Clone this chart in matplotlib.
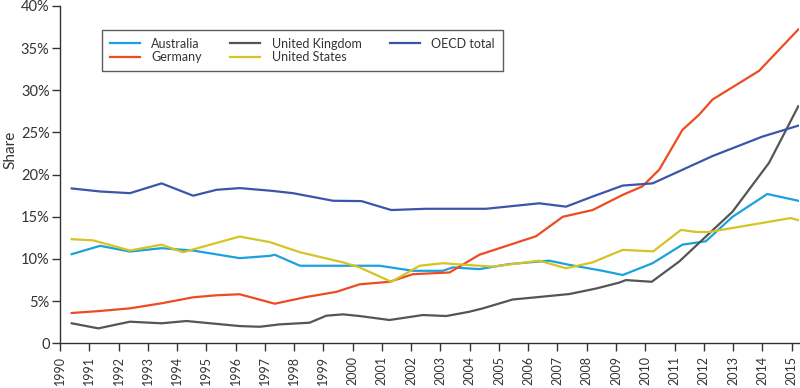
import numpy as np
import matplotlib.pyplot as plt

plt.rcParams['font.family'] = ['Lato', 'DejaVu Sans']

# data (fractional year, share in %)
aus_x = [1990.4, 1991.37, 1992.39, 1993.47, 1994.55, 1996.14, 1997.17, 1997.34, 1998.2,
         2000.92, 2002.06, 2003.08, 2003.42, 2004.33, 2005.36, 2006.72, 2007.41, 2008.54,
         2009.23, 2010.25, 2011.27, 2012.07, 2012.98, 2014.17, 2015.23]
aus_y = [10.57, 11.56, 10.88, 11.28, 11.0, 10.1, 10.37, 10.5, 9.2,
         9.2, 8.6, 8.6, 9.0, 8.8, 9.4, 9.8, 9.3, 8.6,
         8.1, 9.5, 11.7, 12.1, 15.0, 17.7, 16.9]

ger_x = [1990.4, 1991.37, 1992.39, 1993.47, 1994.55, 1995.35, 1996.14, 1997.34, 1998.42,
         1999.44, 2000.24, 2001.26, 2002.06, 2003.31, 2003.99, 2004.33, 2006.27, 2007.18,
         2008.2, 2009.23, 2009.9, 2010.48, 2011.27, 2011.84, 2012.3, 2013.89, 2015.23]
ger_y = [3.6, 3.84, 4.15, 4.75, 5.46, 5.7, 5.82, 4.7, 5.5,
         6.1, 7.0, 7.3, 8.2, 8.4, 9.8, 10.5, 12.7, 15.0,
         15.8, 17.6, 18.6, 20.6, 25.3, 27.1, 28.9, 32.3, 37.2]

uk_x = [1990.4, 1991.31, 1992.39, 1993.47, 1994.32, 1996.14, 1996.83, 1997.5, 1998.53,
        1999.1, 1999.67, 2000.24, 2001.26, 2002.4, 2003.2, 2003.99, 2004.45, 2005.47,
        2006.38, 2007.41, 2008.32, 2009.11, 2009.34, 2010.22, 2011.16, 2011.96, 2012.98,
        2014.23, 2015.23]
uk_y = [2.38, 1.78, 2.57, 2.38, 2.65, 2.05, 1.97, 2.25, 2.45,
        3.28, 3.44, 3.24, 2.77, 3.36, 3.24, 3.75, 4.15, 5.2,
        5.5, 5.85, 6.5, 7.2, 7.5, 7.3, 9.7, 12.3, 15.6,
        21.4, 28.1]

us_x = [1990.4, 1991.14, 1992.39, 1993.47, 1994.2, 1996.14, 1997.17, 1998.2, 1999.67,
        2000.24, 2001.32, 2002.29, 2003.08, 2003.88, 2004.79, 2006.38, 2007.29, 2008.2,
        2009.23, 2010.27, 2011.22, 2011.73, 2012.18, 2014.97, 2015.23]
us_y = [12.35, 12.2, 11.0, 11.7, 10.8, 12.66, 12.0, 10.8, 9.6,
        9.0, 7.3, 9.2, 9.5, 9.3, 9.1, 9.8, 8.9, 9.6,
        11.08, 10.9, 13.45, 13.2, 13.2, 14.85, 14.6]

oecd_x = [1990.4, 1991.37, 1992.39, 1993.47, 1994.55, 1995.35, 1996.14, 1997.17, 1997.96,
          1999.33, 2000.3, 2001.32, 2002.51, 2003.99, 2004.56, 2006.38, 2007.29, 2008.2,
          2009.23, 2010.25, 2012.3, 2014.0, 2015.23]
oecd_y = [18.36, 18.0, 17.8, 18.96, 17.5, 18.2, 18.4, 18.1, 17.8,
          16.9, 16.86, 15.8, 15.95, 15.95, 15.95, 16.6, 16.2, 17.4,
          18.7, 18.96, 22.2, 24.5, 25.8]

years = list(range(1990, 2016))
yticks = [0, 5, 10, 15, 20, 25, 30, 35, 40]
ylabels = ['0'] + ['%d%%' % v for v in yticks[1:]]

text_col = '#333333'

fig = plt.figure(figsize=(8, 3.88), dpi=100)
ax = fig.add_axes([0.075, 0.115, 0.924, 0.87])

ax.plot(aus_x, aus_y, color='#1ba1dd', lw=1.6, label='Australia')
ax.plot(ger_x, ger_y, color='#ee4b22', lw=1.6, label='Germany')
ax.plot(uk_x, uk_y, color='#555555', lw=1.6, label='United Kingdom')
ax.plot(us_x, us_y, color='#d6c324', lw=1.6, label='United States')
ax.plot(oecd_x, oecd_y, color='#3d55a8', lw=1.6, label='OECD total')

ax.set_xlim(1990, 2015.26)
ax.set_ylim(0, 40)
ax.set_xticks(years)
ax.set_xticklabels([str(y) for y in years], rotation=90, fontsize=9, color=text_col)
ax.set_yticks(yticks)
ax.set_yticklabels(ylabels, fontsize=10.5, color=text_col)
ax.set_ylabel('Share', fontsize=11, color=text_col)
ax.yaxis.set_label_coords(-0.057, 0.573)

for s in ['top', 'right']:
    ax.spines[s].set_visible(False)
for s in ['left', 'bottom']:
    ax.spines[s].set_color('#333333')
    ax.spines[s].set_linewidth(1.0)
ax.tick_params(axis='both', length=6, width=1, color='#333333')
ax.tick_params(axis='y', pad=1.5)
ax.tick_params(axis='x', pad=3)

leg = ax.legend(ncol=3, loc='upper left', bbox_to_anchor=(0.057, 0.928),
                borderaxespad=0, fontsize=9, frameon=True, fancybox=False,
                edgecolor='#333333', handlelength=2.4, columnspacing=2.3,
                labelspacing=0.15, borderpad=0.6, handletextpad=0.9)
leg.get_frame().set_linewidth(1.0)
for t in leg.get_texts():
    t.set_color(text_col)

fig.savefig('out.png', dpi=100)
